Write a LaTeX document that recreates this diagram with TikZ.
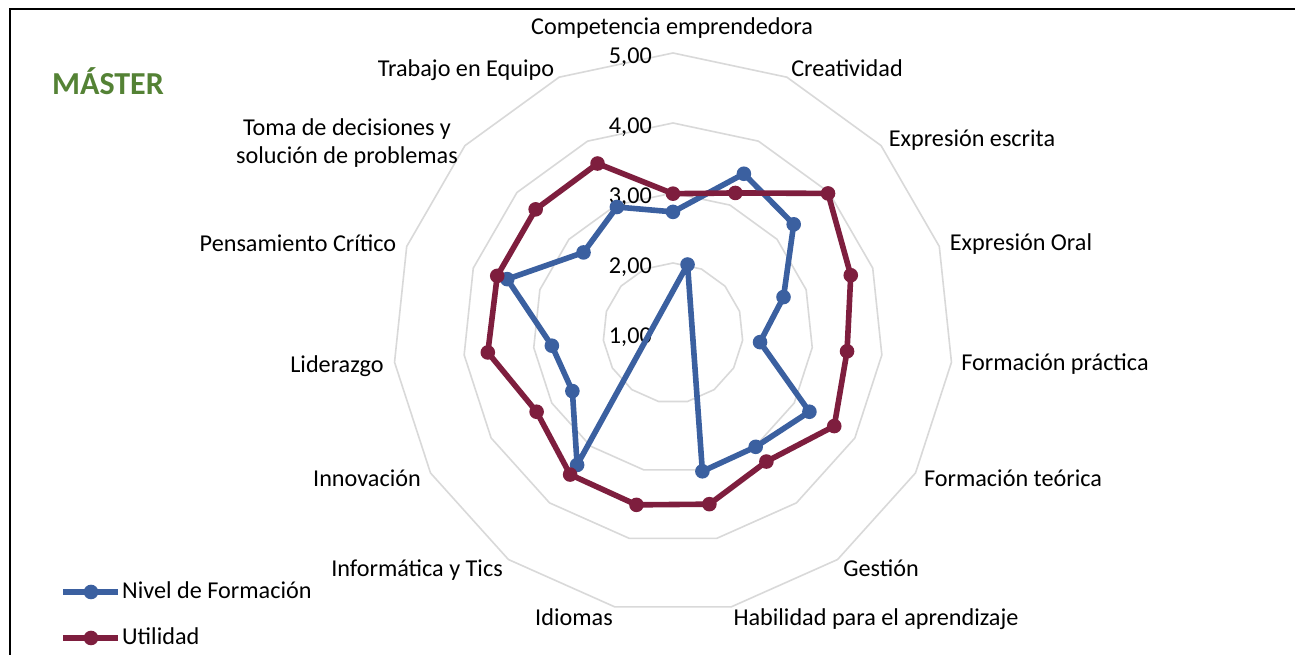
\documentclass[tikz,border=0pt]{standalone}
\usepackage{fontspec}
\setmainfont{Carlito}
\usetikzlibrary{calc}
\definecolor{serblue}{RGB}{59,96,160}
\definecolor{serred}{RGB}{126,30,62}
\definecolor{gridgray}{RGB}{217,217,217}
\definecolor{mgreen}{RGB}{84,130,53}
\tikzset{
  lbl/.style={font=\fontsize{24.2bp}{28bp}\selectfont, inner sep=0pt, text height=0.64em, text depth=0.22em},
  vallbl/.style={lbl, anchor=east},
  gridline/.style={draw=gridgray, line width=1.6bp},
  blueline/.style={draw=serblue, line width=5.6bp, line join=round},
  redline/.style={draw=serred, line width=5.6bp, line join=round},
  frameline/.style={draw=black, line width=2bp},
}
\begin{document}
\begin{tikzpicture}[x=1bp,y=1bp]
\useasboundingbox (0,0) rectangle (1295,655);
\fill[white] (0,0) rectangle (1295,655);
% frame
\coordinate (f1) at (10,0);
\coordinate (f2) at (10,645.5);
\coordinate (f3) at (1295,645.5);
\draw[frameline] (f1) -- (f2) -- (f3);
\coordinate (c) at (673,322);
% grid rings
\begin{scope}[shift={(c)}]
\foreach \k in {1,...,4} {
  \draw[gridline] (90:{\k*70}) \foreach \j in {1,...,14} { -- ({90-24*\j}:{\k*70}) } -- cycle;
}
\end{scope}
% value labels
\foreach \k/\t in {0/{1,00},1/{2,00},2/{3,00},3/{4,00},4/{5,00}} {
  \node[vallbl] (v\k) at ($(c)+(-21,{\k*70-8})$) {\t};
}
% data points
\foreach \v [count=\i from 0] in {2.73,3.49,3.32,2.66,2.25,3.25,3.01,3.02,0,3.33,2.66,2.74,3.49,2.72,2.97} {
  \coordinate (b\i) at ($(c)+({(\v-1)*70*cos(90-24*\i)},{(\v-1)*70*sin(90-24*\i)})$);
}
\foreach \v [count=\i from 0] in {2.99,3.19,3.98,3.67,3.50,3.66,3.27,3.50,3.51,3.50,3.25,3.66,3.64,3.64,3.65} {
  \coordinate (r\i) at ($(c)+({(\v-1)*70*cos(90-24*\i)},{(\v-1)*70*sin(90-24*\i)})$);
}
\draw[blueline] (b0)--(b1)--(b2)--(b3)--(b4)--(b5)--(b6)--(b7)--(b8)--(b9)--(b10)--(b11)--(b12)--(b13)--(b14)--cycle;
\foreach \i in {0,...,14} \fill[serblue] (b\i) circle (7.3);
\draw[redline] (r0)--(r1)--(r2)--(r3)--(r4)--(r5)--(r6)--(r7)--(r8)--(r9)--(r10)--(r11)--(r12)--(r13)--(r14)--cycle;
\foreach \i in {0,...,14} \fill[serred] (r\i) circle (7.3);
% category labels
\node[lbl] (l0) at (672,623) {Competencia emprendedora};
\node[lbl] (l1) at (847,581) {Creatividad};
\node[lbl] (l2) at (972,511) {Expresión escrita};
\node[lbl] (l3) at (1021,407) {Expresión Oral};
\node[lbl] (l4) at (1055,287) {Formación práctica};
\node[lbl] (l5) at (1013,171) {Formación teórica};
\node[lbl] (l6) at (881,81) {Gestión};
\node[lbl] (l7) at (876,32) {Habilidad para el aprendizaje};
\node[lbl] (l8) at (574,32) {Idiomas};
\node[lbl] (l9) at (417,81) {Informática y Tics};
\node[lbl] (l10) at (367,171) {Innovación};
\node[lbl] (l11) at (337,285) {Liderazgo};
\node[lbl] (l12) at (298,406) {Pensamiento Crítico};
\node[lbl, align=center, text height=, text depth=] (l13) at (347,512) {Toma de decisiones y\\solución de problemas};
\node[lbl] (l14) at (466,581) {Trabajo en Equipo};
% title
\node[font=\fontsize{32bp}{37bp}\selectfont\bfseries, text=mgreen, inner sep=0pt] (title) at (108,574) {MÁSTER};
% legend
\coordinate (lb1) at (63,63);
\coordinate (lb2) at (118,63);
\coordinate (lbm) at (91,63);
\draw[serblue, line width=5.6bp] (lb1) -- (lb2);
\fill[serblue] (lbm) circle (7.3);
\node[lbl, anchor=west] (lbt) at (122,59) {Nivel de Formación};
\coordinate (lr1) at (63,17);
\coordinate (lr2) at (118,17);
\coordinate (lrm) at (91,17);
\draw[serred, line width=5.6bp] (lr1) -- (lr2);
\fill[serred] (lrm) circle (7.3);
\node[lbl, anchor=west] (lrt) at (122,13) {Utilidad};
\end{tikzpicture}
\end{document}
